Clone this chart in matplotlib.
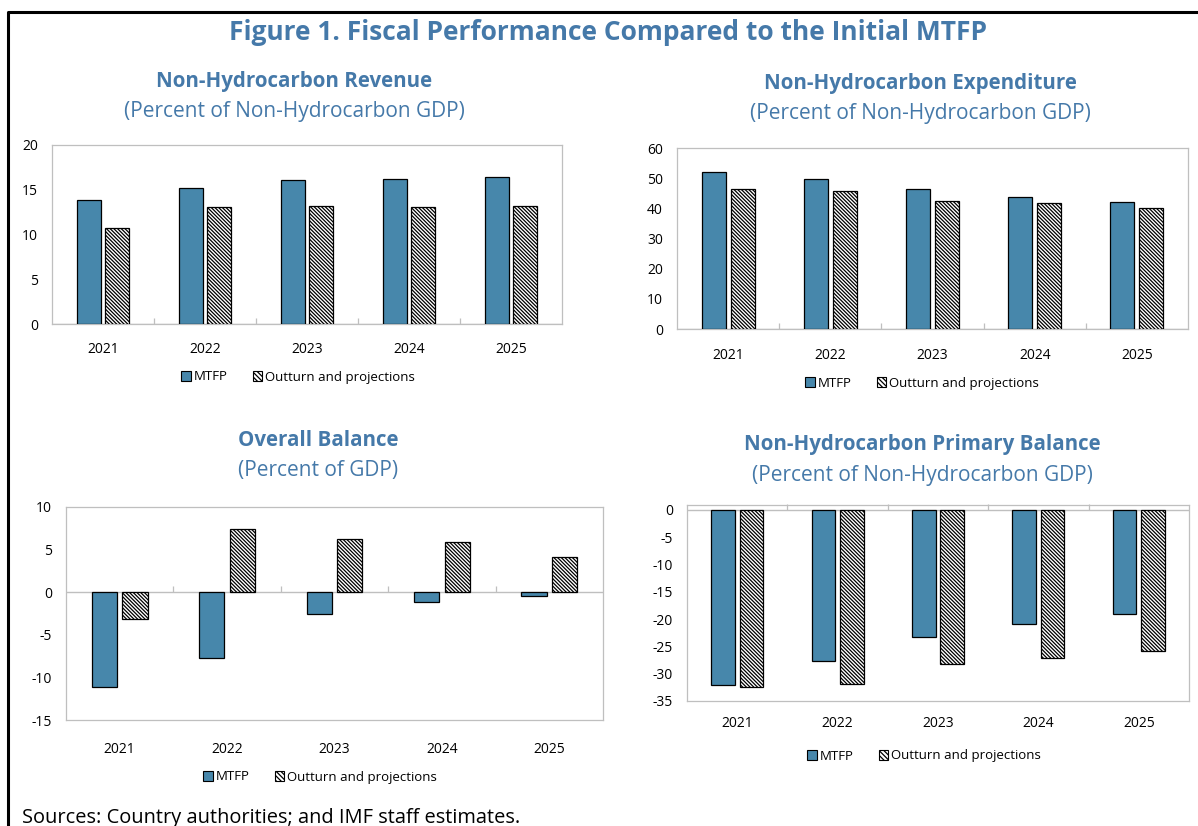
import numpy as np
import matplotlib
matplotlib.use("Agg")
import matplotlib.pyplot as plt
from matplotlib.patches import Patch
from matplotlib.lines import Line2D
from matplotlib.markers import TICKUP

plt.rcParams['font.family'] = ['Open Sans', 'DejaVu Sans']
plt.rcParams['hatch.linewidth'] = 0.9

# ---------------- data ----------------
years = ["2021", "2022", "2023", "2024", "2025"]
series_names = ["MTFP", "Outturn and projections"]

rev_mtfp = [13.9, 15.2, 16.1, 16.2, 16.4]
rev_out = [10.7, 13.1, 13.2, 13.1, 13.2]

exp_mtfp = [52.0, 49.6, 46.3, 43.9, 42.2]
exp_out = [46.5, 45.7, 42.4, 41.7, 40.0]

bal_mtfp = [-11.1, -7.7, -2.6, -1.1, -0.45]
bal_out = [-3.2, 7.45, 6.25, 5.9, 4.1]

nhpb_mtfp = [-32.0, -27.6, -23.2, -20.95, -19.0]
nhpb_out = [-32.4, -31.8, -28.2, -27.2, -25.8]

titles = ["Non-Hydrocarbon Revenue", "Non-Hydrocarbon Expenditure",
          "Overall Balance", "Non-Hydrocarbon Primary Balance"]
subtitles = ["(Percent of Non-Hydrocarbon GDP)", "(Percent of Non-Hydrocarbon GDP)",
             "(Percent of GDP)", "(Percent of Non-Hydrocarbon GDP)"]
fig_title = "Figure 1. Fiscal Performance Compared to the Initial MTFP"
source_text = "Sources: Country authorities; and IMF staff estimates."

# ---------------- style ----------------
W, H = 1198, 826
BLUE = "#4787ab"
TITLE_BLUE = "#4579a9"
GRID = "#bfbfbf"
HATCH = "\\" * 9

fig = plt.figure(figsize=(W / 100, H / 100), dpi=100)


def px_axes(l, t, r, b):
    return fig.add_axes([l / W, 1 - b / H, (r - l) / W, (b - t) / H])


def draw_panel(ax, mtfp, out, ylim, yticks, label_pad):
    x = np.arange(len(years))
    w = 0.235
    off = 0.142
    ax.bar(x - off, mtfp, w, color=BLUE, edgecolor="black", linewidth=0.9, zorder=3)
    ax.bar(x + off, out, w, color="white", edgecolor="black", linewidth=0.9,
           hatch=HATCH, zorder=3)
    ax.set_xlim(-0.5, len(years) - 0.5)
    ax.set_ylim(*ylim)
    ax.set_yticks(yticks)
    ax.set_yticklabels([f"{v:g}" for v in yticks])
    ax.set_xticks(x)
    ax.set_xticklabels(years)
    ax.tick_params(axis="y", length=0, pad=10, labelsize=10)
    ax.tick_params(axis="x", length=0, pad=label_pad, labelsize=10)
    for s in ax.spines.values():
        s.set_color(GRID)
        s.set_linewidth(0.9)
    # zero line and category boundary ticks
    ax.axhline(0, color=GRID, lw=1.0, zorder=2)
    bounds = np.arange(0.5, len(years) - 0.5, 1.0)
    ax.plot(bounds, np.zeros_like(bounds), ls="none", marker=TICKUP, ms=4,
            mew=0.9, color=GRID, zorder=2, clip_on=False)


def legend_at(cx, cy):
    handles = [Patch(facecolor=BLUE, edgecolor="black", linewidth=0.8),
               Patch(facecolor="white", edgecolor="black", linewidth=0.8, hatch="\\" * 7)]
    fig.legend(handles, series_names, loc="center",
               bbox_to_anchor=(cx / W, 1 - cy / H), ncol=2, frameon=False,
               fontsize=9.5, handlelength=0.75, handleheight=0.75,
               handletextpad=0.2, columnspacing=1.9, borderpad=0)


def titles_at(cx, ty, sy, i):
    fig.text(cx / W, 1 - ty / H, titles[i], ha="center", va="center",
             fontsize=14.8, fontweight="bold", color=TITLE_BLUE)
    fig.text(cx / W, 1 - sy / H, subtitles[i], ha="center", va="center",
             fontsize=15, color=TITLE_BLUE)


# Panel 1
ax1 = px_axes(52, 145, 562, 324)
draw_panel(ax1, rev_mtfp, rev_out, (0, 20), [0, 5, 10, 15, 20], 13)
titles_at(294, 82, 111, 0)
legend_at(298, 377)

# Panel 2
ax2 = px_axes(677, 148, 1188, 329)
draw_panel(ax2, exp_mtfp, exp_out, (0, 60), [0, 10, 20, 30, 40, 50, 60], 14)
titles_at(920, 84, 114, 1)
legend_at(922, 383)

# Panel 3
ax3 = px_axes(66, 507, 603, 720)
draw_panel(ax3, bal_mtfp, bal_out, (-15, 10), [-15, -10, -5, 0, 5, 10], 16)
titles_at(318, 441, 471, 2)
legend_at(320, 777)

# Panel 4
ax4 = px_axes(687, 505, 1189, 701)
draw_panel(ax4, nhpb_mtfp, nhpb_out, (-35, 0.9), [-35, -30, -25, -20, -15, -10, -5, 0], 11)
titles_at(922, 445, 475, 3)
legend_at(924, 756)

# Figure title and source
fig.text(608 / W, 1 - 33 / H, fig_title, ha="center", va="center",
         fontsize=19, fontweight="bold", color=TITLE_BLUE)
fig.text(22 / W, 1 - 818 / H, source_text, ha="left", va="center",
         fontsize=14.4, color="black")

# Outer border (top and left)
fig.add_artist(Line2D([8 / W, 8 / W, 1.0], [0.0, 1 - 12 / H, 1 - 12 / H],
                      transform=fig.transFigure, color="black", lw=2.2))

fig.savefig("out.png", dpi=100)
